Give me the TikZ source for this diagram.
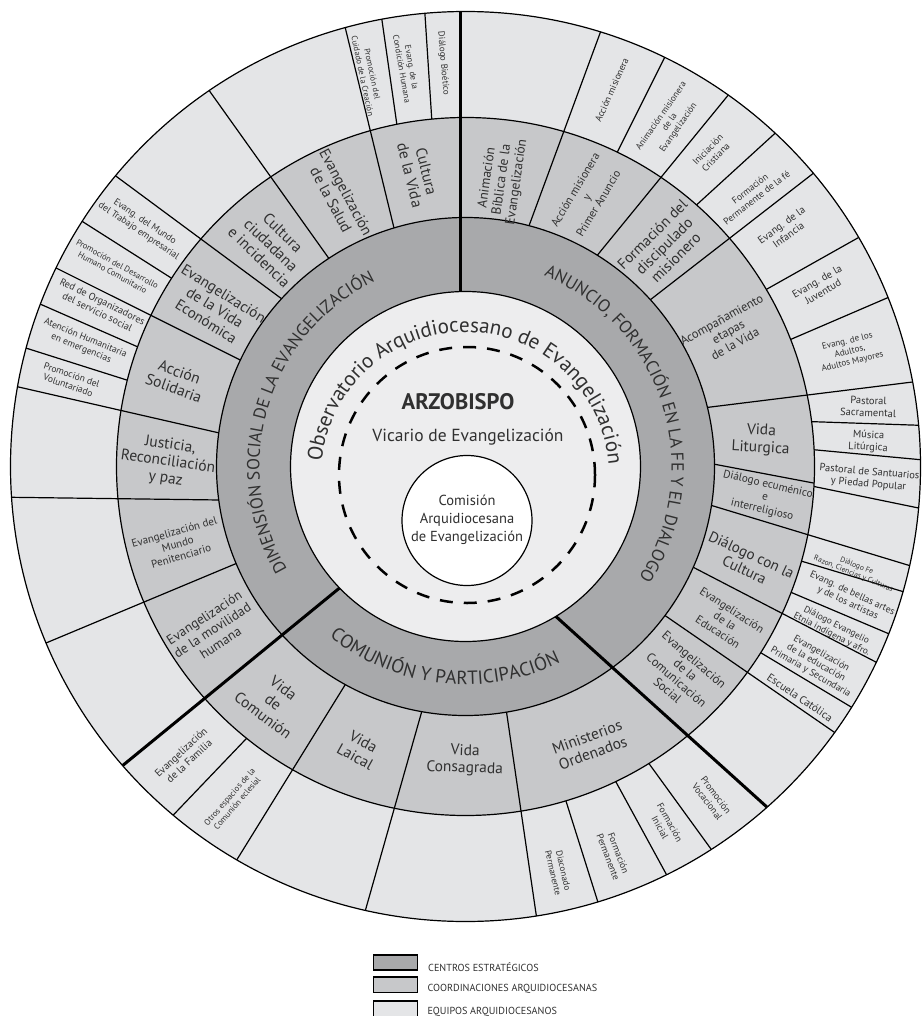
\documentclass[tikz,border=0pt]{standalone}
\usepackage{fontspec}
\setmainfont{PT Sans}
\usetikzlibrary{calc,decorations.text}
\definecolor{cStrat}{HTML}{A8A9AB}
\definecolor{cCoord}{HTML}{C7C8CA}
\definecolor{cEquip}{HTML}{E4E5E7}
\definecolor{cInner}{HTML}{EDEDEE}
\definecolor{txt}{HTML}{303030}
\newcommand\segl[4]{\draw[ln] ($(#1,-#2)!-0.1!(#3,-#4)$) -- ($(#1,-#2)!1.1!(#3,-#4)$);}
\newcommand\segt[4]{\draw[thk] ($(#1,-#2)!-0.1!(#3,-#4)$) -- ($(#1,-#2)!1.1!(#3,-#4)$);}
\tikzset{
  ln/.style={line width=1.2pt, draw=black},
  thk/.style={line width=3pt, draw=black},
  cell/.style={align=center, text=txt, inner sep=0pt},
  fz/.style={font=\fontsize{#1}{#1}\selectfont},
  fzs/.style args={#1/#2}{font=\fontsize{#1}{#2}\selectfont},
  legbox/.style={draw=black, line width=1.2pt},
  legtxt/.style={anchor=west, text=txt, inner sep=0pt, font=\fontsize{10.2}{10.2}\selectfont}
}
\begin{document}
\begin{tikzpicture}[x=1pt,y=1pt]
\useasboundingbox (0,0) rectangle (921,-1016);
\coordinate (C) at (465.5,-466.5);
% outer ring
\fill[cEquip] (C) circle (455);
\begin{scope}
\clip (C) circle (455);
\segl{616.7}{153.3}{665}{56.7}
\segl{698.3}{203.3}{775}{133.3}
\segl{768.3}{288.3}{860}{236.7}
\segl{793.3}{338.3}{890}{296.7}
\segl{813.3}{421.7}{911}{425}
\segl{816.7}{450}{913}{459}
\segl{815}{486.7}{920}{508.3}
\segl{803.3}{561.7}{903.3}{591.7}
\segl{793.3}{593.3}{891.7}{635}
\segl{761.7}{653.3}{853.3}{708.3}
\segl{650}{765}{711.7}{850}
\segl{616.7}{783.3}{666.7}{875}
\segl{566.7}{803.3}{598.3}{903.3}
\segl{245}{740}{173.3}{815}
\segl{126.7}{380}{26.7}{348.3}
\segl{137.3}{346.7}{40}{304}
\segl{171.7}{278.3}{82.7}{221.7}
\segl{396.7}{123.3}{381.7}{18.3}
\segl{431.7}{118.3}{425}{15}
\end{scope}
% middle ring
\filldraw[fill=cCoord, ln] (C) circle (349);
\begin{scope}
\clip (C) circle (455);
\segl{528.3}{227.7}{600}{33.3}
\segl{596.7}{256}{728.3}{95}
\segl{650}{300}{813.3}{173.3}
\segl{708.3}{407.3}{915}{381.7}
\segl{710}{505}{913.3}{566.7}
\segl{693.3}{567.3}{878.3}{663.3}
\segl{666.7}{616.7}{838.3}{735}
\segl{506.7}{713.3}{536.7}{918.3}
\segl{421.7}{711.7}{365}{911.7}
\segl{345}{685}{236.7}{860}
\segl{236.7}{563.3}{46.7}{642.7}
\segl{220}{500}{11.7}{497.3}
\segl{220.7}{433.3}{17.3}{386.7}
\segl{241.7}{360.7}{56.7}{268.3}
\segl{283.3}{300}{116.7}{176.7}
\segl{330}{260}{210}{91.7}
\segl{394.3}{229.3}{345}{26.7}
\end{scope}
\begin{scope}
\clip (C) circle (349);
\segl{713.3}{464}{815}{483.3}
\end{scope}
% strategic ring
\filldraw[fill=cStrat, ln] (C) circle (249);
\begin{scope}
\clip (C) circle (455);
\segt{460}{12}{460}{290}
\segt{561.7}{621.7}{768.3}{808.3}
\segt{335}{591.7}{123.3}{765}
\end{scope}
% inner disc
\filldraw[fill=cInner, ln] (C) circle (175);
\draw[ln] (C) circle (455);
% strategic labels
\path[decorate, decoration={text along path, text align=center, text color=txt,
  text={|\fontsize{17.5}{17.5}\selectfont|ANUNCIO, FORMACIÓN EN LA FE Y EL DIALOGO}}]
  ($(C)+(80:206)$) arc[start angle=80, end angle=-45, radius=206];
\path[decorate, decoration={text along path, text align=center, text color=txt,
  text={|\fontsize{17.5}{17.5}\selectfont|DIMENSIÓN SOCIAL DE LA EVANGELIZACIÓN}}]
  ($(C)+(223:206)$) arc[start angle=223, end angle=103, radius=206];
\path[decorate, decoration={text along path, text align=center, text color=txt,
  text={|\fontsize{19}{19}\selectfont|COMUNIÓN Y PARTICIPACIÓN}}]
  ($(C)+(218.6:218)$) arc[start angle=218.6, end angle=308.6, radius=218];
% centre
\coordinate (C2) at (465,-476);
\path[decorate, decoration={text along path, text align=center, text color=txt,
  text={|\fontsize{21}{21}\selectfont|Observatorio Arquidiocesano de Evangelización}}]
  ($(C2)+(174.5:144)$) arc[start angle=174.5, end angle=4.5, radius=144];
\draw[line width=2.5pt, dash pattern=on 13pt off 11pt] (467,-475) circle (128);
\filldraw[fill=white, ln] (467,-520.5) circle (65);
\node[cell, font=\fontsize{22.5}{22.5}\selectfont\bfseries] (arz) at (458,-402) {ARZOBISPO};
\node[cell, fz=17.5] (vic) at (468,-437) {Vicario de Evangelización};
\node[cell, fzs=14.5/18] (com) at (467,-520) {Comisión\\Arquidiocesana\\de Evangelización};
% middle ring labels
\node[cell, fzs=15.5/17, rotate=-76] (n1) at (418.3,-173.3) {Cultura\\de la Vida};
\node[cell, fzs=15/17, rotate=-62] (n2) at (338.7,-196) {Evangelización\\de la Salud};
\node[cell, fzs=15.5/17, rotate=-44] (n3) at (271,-245) {Cultura\\ciudadana\\e incidencia};
\node[cell, fzs=15/16.5, rotate=-32] (n4) at (215,-307.5) {Evangelización\\de la Vida\\Económica};
\node[cell, fzs=15.5/17, rotate=-20] (n5) at (176.7,-380) {Acción\\Solidaria};
\node[cell, fzs=15.5/17, rotate=-8] (n6) at (168,-462) {Justicia,\\Reconciliación\\y paz};
\node[cell, fzs=11/12.5, rotate=16] (n7) at (177.7,-544) {Evangelización del\\Mundo\\Penitenciario};
\node[cell, fzs=13.5/15, rotate=33] (n8) at (212.3,-630) {Evangelización\\de la movilidad\\humana};
\node[cell, fzs=15.5/17, rotate=-37] (n9) at (273.3,-701.7) {Vida\\de\\Comunión};
\node[cell, fzs=15.5/17, rotate=-29] (n10) at (359.3,-749.3) {Vida\\Laical};
\node[cell, fzs=15.5/17, rotate=-2] (n11) at (465,-760) {Vida\\Consagrada};
\node[cell, fzs=15.5/17, rotate=20] (n12) at (590,-745) {Ministerios\\Ordenados};
\node[cell, fzs=13.5/15, rotate=82] (n13) at (502,-180) {Animación\\Bíblica de la\\Evangelización};
\node[cell, fzs=11.5/13.5, rotate=59] (n14) at (586.7,-196.7) {Acción misionera\\y\\Primer Anuncio};
\node[cell, fzs=15/16.5, rotate=45] (n15) at (664,-246) {Formación del\\discipulado\\misionero};
\node[cell, fzs=12.5/14, rotate=29] (n16) at (728.3,-331.7) {Acompañamiento\\etapas\\de la Vida};
\node[cell, fzs=15.5/17.5, rotate=-3] (n17) at (761,-439.7) {Vida\\Liturgica};
\node[cell, fzs=11.2/13, rotate=-13] (n18) at (765,-497.5) {Diálogo ecuménico\\e\\interreligioso};
\node[cell, fzs=15/16.5, rotate=-25] (n19) at (748,-562.3) {Diálogo con la\\Cultura};
\node[cell, fzs=11.5/13, rotate=-33] (n20) at (725,-621) {Evangelización\\de la\\Educación};
\node[cell, fzs=12.5/13.5, rotate=-41] (n21) at (681,-675) {Evangelización\\de la\\Comunicación\\Social};
% outer ring labels
\node[cell, fzs=8.3/10, rotate=-78] (o1) at (367.5,-75) {Promoción del\\Cuidado de la Creación};
\node[cell, fzs=8.5/10, rotate=-80] (o2) at (406.7,-68.3) {Evang. de la\\Condición Humana};
\node[cell, fz=9, rotate=-85] (o3) at (443.3,-63.3) {Diálogo Bioético};
\node[cell, fzs=9.5/11, rotate=-34] (o4) at (141.7,-226.7) {Evang. del Mundo\\del Trabajo empresarial};
\node[cell, fzs=8.5/10, rotate=-29] (o5) at (115,-268.3) {Promoción del Desarrollo\\Humano Comunitario};
\node[cell, fzs=10/11.5, rotate=-26] (o6) at (100,-306.7) {Red de Organizadores\\del servicio social};
\node[cell, fzs=9.5/11, rotate=-22] (o7) at (83.3,-343.3) {Atención Humanitaria\\en emergencias};
\node[cell, fzs=9.5/11, rotate=-19] (o8) at (70,-380) {Promoción del\\Voluntariado};
\node[cell, fz=9.5, rotate=66] (o9) at (611.7,-90) {Acción misionera};
\node[cell, fzs=9/10.5, rotate=55] (o10) at (670,-122) {Animación misionera\\de la\\Evangelización};
\node[cell, fzs=9.5/11, rotate=46] (o11) at (711.7,-153.3) {Iniciación\\Cristiana};
\node[cell, fzs=9.5/11, rotate=38] (o12) at (753.3,-193.3) {Formación\\Permanente de la fé};
\node[cell, fzs=10.5/12, rotate=36] (o13) at (785,-230) {Evang. de la\\Infancia};
\node[cell, fzs=10.5/12, rotate=30] (o14) at (820,-286.7) {Evang. de la\\Juventud};
\node[cell, fzs=9/10.5, rotate=14] (o15) at (850,-351.7) {Evang. de los\\Adultos,\\Adultos Mayores};
\node[cell, fzs=10.5/12, rotate=-2] (o16) at (868.3,-406.7) {Pastoral\\Sacramental};
\node[cell, fzs=10.5/12, rotate=-3] (o17) at (868.3,-441.7) {Música\\Litúrgica};
\node[cell, fzs=10.5/12, rotate=-5] (o18) at (869,-478.3) {Pastoral de Santuarios\\y Piedad Popular};
\node[cell, fzs=7.6/8.6, rotate=-22] (o19) at (855,-570) {Diálogo Fe\\Razon, Ciencias y Culturas};
\node[cell, fzs=9.8/10.8, rotate=-25] (o20) at (850,-598.3) {Evang. de bellas artes\\y de los artistas};
\node[cell, fzs=9.3/10.3, rotate=-27] (o21) at (834,-630) {Diálogo Evangelio\\Etnia indígena y afro.};
\node[cell, fzs=9.8/10.8, rotate=-30] (o22) at (816,-663) {Evangelización\\de la educación\\Primaria y Secundaria};
\node[cell, fz=11, rotate=-34] (o23) at (800,-697.5) {Escuela Católica};
\node[cell, fzs=9.5/11, rotate=-53] (o24) at (711.7,-798.3) {Promoción\\Vocacional};
\node[cell, fzs=9.5/11, rotate=-61] (o25) at (665,-825) {Formación\\Inicial};
\node[cell, fzs=9.5/11, rotate=-69] (o26) at (613.3,-855) {Formación\\Permanente};
\node[cell, fzs=9/10.5, rotate=-77] (o27) at (558.3,-871.7) {Diaconado\\Permanente};
\node[cell, fzs=8.5/10, rotate=49] (o28) at (233.3,-800) {Otros espacios de la\\Comunión eclesial};
\node[cell, fzs=10.5/12, rotate=43] (o29) at (185,-756.7) {Evangelización\\de la Familia};
% legend
\filldraw[legbox, fill=cStrat] (373.3,-955) rectangle (417.3,-970);
\node[legtxt] (l1) at (428,-966.7) {CENTROS ESTRATÉGICOS};
\filldraw[legbox, fill=cCoord] (373.3,-977) rectangle (417.3,-992.7);
\node[legtxt] (l2) at (427.3,-988.3) {COORDINACIONES ARQUIDIOCESANAS};
\filldraw[legbox, fill=cEquip] (373.3,-1001) rectangle (417.3,-1018);
\node[legtxt] (l3) at (427.3,-1011.7) {EQUIPOS ARQUIDIOCESANOS};
\end{tikzpicture}
\end{document}
